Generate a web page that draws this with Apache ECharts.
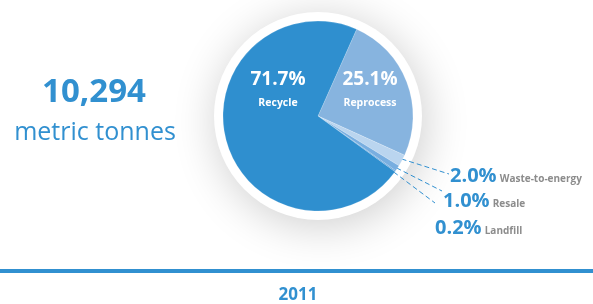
<!DOCTYPE html>
<html>
<head>
<meta charset="utf-8">
<script src="https://cdn.jsdelivr.net/npm/echarts@6/dist/echarts.min.js"></script>
<style>
  html, body { margin: 0; padding: 0; background: #fff; }
  #chart { width: 593px; height: 304px; }
</style>
</head>
<body>
<div id="chart"></div>
<script>
var categories = ['Reprocess', 'Waste-to-energy', 'Resale', 'Landfill', 'Recycle'];
var shares = [25.1, 2.0, 1.0, 0.2, 71.7];
var totalTonnes = '10,294';
var unitLabel = 'metric tonnes';
var yearLabel = '2011';

var blue = '#3190d0';
var sliceColors = ['#87b4df', '#bad5ef', '#78aee0', '#5ea0da', '#2f8fcf'];
// label placement (offsets from pie centre for inside labels, absolute for outside)
var cx = 318, cy = 116;
var labelSpots = [
  { x: cx + 52, y: cy - 27, inside: true },
  { x: 450, y: 176, end: [449, 174] },
  { x: 443, y: 201, end: [442, 191] },
  { x: 435, y: 228, end: [435, 203] },
  { x: cx - 40, y: cy - 27, inside: true }
];

var chart = echarts.init(document.getElementById('chart'));

var pieData = categories.map(function (name, i) {
  var spot = labelSpots[i];
  return {
    name: name,
    value: shares[i],
    itemStyle: { color: sliceColors[i] },
    label: spot.inside ? {
      position: 'inside',
      formatter: '{v|{c}%}\n{n|{b}}'
    } : {
      position: 'outside',
      formatter: function (p) { return '{o|' + p.value.toFixed(1) + '%} {m|' + p.name + '}'; }
    },
    labelLine: { show: !spot.inside }
  };
});

var option = {
  backgroundColor: '#fff',
  animation: false,
  title: [
    {
      text: totalTonnes,
      left: 89, top: 71, textAlign: 'center',
      textStyle: { color: blue, fontSize: 33, fontWeight: 'bold', fontFamily: 'Open Sans' }
    },
    {
      text: unitLabel,
      left: 90, top: 115, textAlign: 'center',
      textStyle: { color: blue, fontSize: 25, fontWeight: 'normal', fontFamily: 'Open Sans' }
    },
    {
      text: yearLabel,
      left: 293, top: 282, textAlign: 'center',
      textStyle: { color: blue, fontSize: 17, fontWeight: 'bold', fontFamily: 'Open Sans' }
    }
  ],
  graphic: [
    { type: 'rect', shape: { x: 0, y: 269, width: 593, height: 4 }, style: { fill: blue } }
  ],
  series: [
    {
      type: 'pie',
      center: [cx, cy],
      radius: [0, 104],
      silent: true,
      z: 1,
      label: { show: false },
      labelLine: { show: false },
      itemStyle: {
        color: '#fff',
        shadowBlur: 45,
        shadowColor: 'rgba(0,0,0,0.2)',
        shadowOffsetX: 3,
        shadowOffsetY: 6
      },
      data: [{ value: 1, name: '' }]
    },
    {
      type: 'pie',
      center: [cx, cy],
      radius: [0, 95],
      startAngle: 66,
      clockwise: true,
      z: 2,
      avoidLabelOverlap: false,
      itemStyle: { borderColor: 'rgba(255,255,255,0.35)', borderWidth: 0.5 },
      label: {
        fontFamily: 'Open Sans',
        rich: {
          v: { color: '#fff', fontSize: 19, fontWeight: 'bold', lineHeight: 28, fontFamily: 'Open Sans' },
          n: { color: '#fff', fontSize: 10.5, fontWeight: 'bold', lineHeight: 18, fontFamily: 'Open Sans' },
          o: { color: blue, fontSize: 20, fontWeight: 'bold', fontFamily: 'Open Sans' },
          m: { color: '#8c8c8c', fontSize: 10, fontWeight: 'bold', fontFamily: 'Open Sans', padding: [6, 0, 0, 0] }
        }
      },
      labelLine: {
        lineStyle: { color: blue, width: 1, type: [5, 3] }
      },
      labelLayout: function (params) {
        var spot = labelSpots[params.dataIndex];
        if (spot.inside) {
          return { x: spot.x, y: spot.y, align: 'center', verticalAlign: 'middle' };
        }
        var pts = params.labelLinePoints;
        var start = pts ? pts[0] : [cx, cy];
        var s = [start[0] - 8, start[1] - 4];
        return {
          x: spot.x, y: spot.y, align: 'left', verticalAlign: 'middle',
          labelLinePoints: [s, [(s[0] + spot.end[0]) / 2, (s[1] + spot.end[1]) / 2], spot.end]
        };
      },
      data: pieData
    }
  ]
};

chart.setOption(option);
</script>
</body>
</html>
